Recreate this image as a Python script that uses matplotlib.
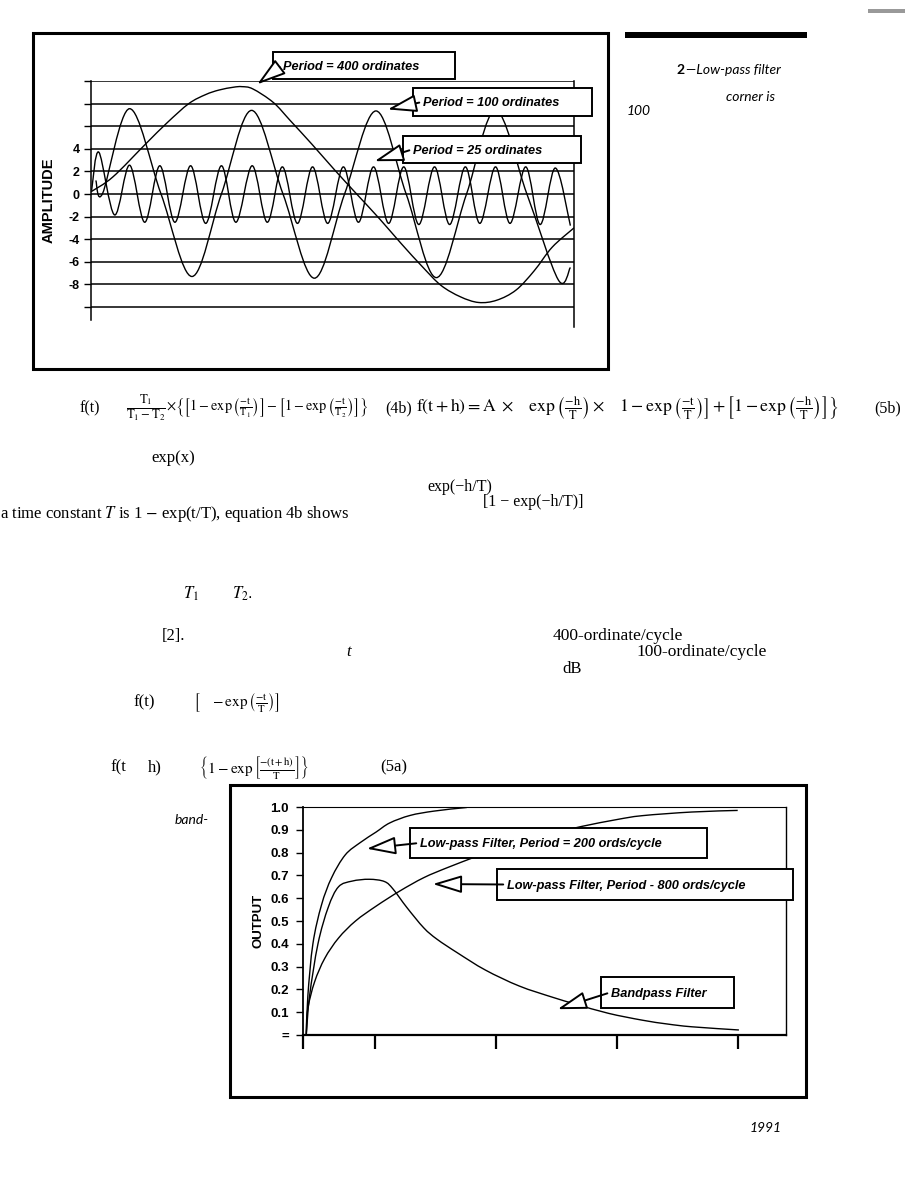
# Scanned page: sine test signals and filter step responses
import numpy as np
import matplotlib
matplotlib.use("Agg")
import matplotlib.pyplot as plt
from matplotlib.path import Path
from matplotlib.patches import PathPatch, Rectangle, FancyArrowPatch

W, H = 921, 1190

## top chart data (x = ordinate, y = amplitude)
p400_x = [0, 18, 45, 63, 81, 95, 106, 118, 125, 134, 151, 165, 183, 202, 220, 239, 257, 275, 290, 306, 321, 336, 352, 367, 382, 400]
p400_y = [0.2, 1.5, 4.4, 6.3, 8.0, 8.8, 9.2, 9.45, 9.5, 9.3, 8.1, 6.5, 4.4, 2.1, 0.0, -2.2, -4.4, -6.5, -8.1, -9.1, -9.6, -9.4, -8.5, -6.8, -4.7, -3.0]

p100_x = [4, 9.6, 32, 58, 83.6, 108, 133, 159, 185, 210, 236, 261, 286, 311, 335, 361, 387, 397]
p100_y = [1.2, 0.05, 7.55, 0.0, -7.3, 0.0, 7.4, 0.0, -7.45, 0.0, 7.35, 0.0, -7.4, 0.0, 7.4, 0.0, -7.6, -6.5]

p25_x = [0.5, 6.5, 19.5, 32, 44.5, 57, 69.5, 82.5, 95, 108, 120, 133.5, 146, 158.5, 171, 183.5, 196,
         209, 221.5, 234, 246.5, 259, 271.5, 284.5, 297, 310, 322, 335, 347, 360, 372, 384.5, 397]
p25_y = [0.3, 3.7, -1.85, 2.55, -2.5, 2.5, -2.5, 2.5, -2.6, 2.5, -2.5, 2.5, -2.5, 2.4, -2.6, 2.4, -2.6,
         2.4, -2.5, 2.4, -2.6, 2.4, -2.7, 2.4, -2.7, 2.4, -2.6, 2.4, -2.6, 2.4, -2.7, 2.3, -2.8]

amp_ticks = [-10, -8, -6, -4, -2, 0, 2, 4, 6, 8, 10]
amp_labels = ['', '-8', '-6', '-4', '-2', '0', '2', '4', '', '', '']

## bottom chart data (x = ordinate, y = output)
lp200_x = [2.7, 4, 8.2, 15.3, 23.7, 35, 47.7, 60.5, 71.8, 88.7, 108.5, 134, 145, 250, 360]
lp200_y = [0.0, 0.17, 0.40, 0.57, 0.69, 0.79, 0.845, 0.89, 0.93, 0.963, 0.982, 0.997, 1.0, 1.0, 1.0]

lp800_x = [2.7, 4, 9.6, 18, 29.4, 43.5, 60.5, 80, 100, 120, 145, 170.6, 207, 231, 260, 281, 322, 360]
lp800_y = [0.0, 0.115, 0.233, 0.336, 0.425, 0.50, 0.565, 0.631, 0.69, 0.735, 0.786, 0.838, 0.885, 0.915, 0.945, 0.962, 0.978, 0.985]

band_x = [2.7, 5.4, 12.4, 20.9, 29.4, 40.7, 54.8, 67.5, 74.6, 85.9, 100, 111, 128, 151, 179, 207, 226, 253, 281, 302, 322, 361]
band_y = [0.0, 0.17, 0.40, 0.56, 0.65, 0.675, 0.683, 0.673, 0.64, 0.56, 0.47, 0.42, 0.36, 0.285, 0.215, 0.165, 0.135, 0.095, 0.065, 0.048, 0.036, 0.022]

out_ticks = [0, 0.1, 0.2, 0.3, 0.4, 0.5, 0.6, 0.7, 0.8, 0.9, 1.0]
out_labels = ['=', '0.1', '0.2', '0.3', '0.4', '0.5', '0.6', '0.7', '0.8', '0.9', '1.0']
x_ticks = [0, 60, 160, 260, 360]

plt.rcParams['font.family'] = ['Liberation Sans', 'DejaVu Sans']
plt.rcParams['mathtext.fontset'] = 'stix'


def smooth(ax, x, y, lw=1.0):
    # excel style smoothed line: bezier through the data points
    x = np.asarray(x, float)
    y = np.asarray(y, float)
    n = len(x)
    verts = [(x[0], y[0])]
    codes = [Path.MOVETO]
    for i in range(n - 1):
        a = max(i - 1, 0)
        b = min(i + 2, n - 1)
        verts.append((x[i] + (x[i + 1] - x[a]) / 6, y[i] + (y[i + 1] - y[a]) / 6))
        verts.append((x[i + 1] - (x[b] - x[i]) / 6, y[i + 1] - (y[b] - y[i]) / 6))
        verts.append((x[i + 1], y[i + 1]))
        codes += [Path.CURVE4] * 3
    ax.add_patch(PathPatch(Path(verts, codes), fill=False, lw=lw, ec='black', zorder=3))


def fx(x):
    return x / W


def fy(y):
    return 1 - y / H


def txt(x, y, s, **kw):
    kw.setdefault('va', 'center')
    fig.text(fx(x), fy(y), s, **kw)


def frame(x0, y0, x1, y1, lw=2.2):
    fig.add_artist(Rectangle((fx(x0), fy(y1)), fx(x1) - fx(x0), fy(y0) - fy(y1),
                             transform=fig.transFigure, fill=False, ec='black', lw=lw))


def callout(x0, y0, x1, y1, s, tip):
    ym = (y0 + y1) / 2
    fig.add_artist(Rectangle((fx(x0), fy(y1)), fx(x1) - fx(x0), fy(y0) - fy(y1),
                             transform=fig.transFigure, fc='white', ec='black', lw=1.4, zorder=5))
    fig.add_artist(FancyArrowPatch((fx(x0 + 9), fy(ym)), (fx(tip[0]), fy(tip[1])),
                                   transform=fig.transFigure, zorder=6,
                                   arrowstyle='-|>,head_length=1.8,head_width=0.55',
                                   mutation_scale=10, fc='white', ec='black', lw=1.4))
    txt(x0 + 10, ym + 1, s, fontsize=9.2, fontweight='bold', fontstyle='italic', zorder=7)


fig = plt.figure(figsize=(W / 100, H / 100), dpi=100)

## top chart
ax1 = fig.add_axes([fx(91), fy(320), fx(574) - fx(91), fy(81) - fy(320)])
smooth(ax1, p400_x, p400_y)
smooth(ax1, p100_x, p100_y)
smooth(ax1, p25_x, p25_y)
ax1.set_xlim(0, 400)
ax1.set_ylim(-11.15, 10)
ax1.set_yticks(amp_ticks)
ax1.set_yticklabels(amp_labels, fontsize=9, fontweight='bold')
ax1.set_xticks([])
ax1.yaxis.grid(True, color='black', lw=1.1)
ax1.tick_params(axis='y', direction='out', length=5, width=1, pad=3)
ax1.spines['top'].set_visible(False)
ax1.spines['bottom'].set_visible(False)
ax1.spines['left'].set_linewidth(1.1)
ax1.spines['right'].set_linewidth(1.1)
ax1.spines['right'].set_bounds(-11.8, 10)
ax1.set_ylabel('AMPLITUDE', fontsize=10.5, fontweight='bold', labelpad=9)

## bottom chart
ax2 = fig.add_axes([fx(303), fy(1035), fx(786) - fx(303), fy(807) - fy(1035)])
smooth(ax2, lp200_x, lp200_y)
smooth(ax2, lp800_x, lp800_y)
smooth(ax2, band_x, band_y)
ax2.set_xlim(0, 400)
ax2.set_ylim(0, 1.0)
ax2.set_yticks(out_ticks)
ax2.set_yticklabels(out_labels, fontsize=9.5, fontweight='bold')
ax2.set_xticks(x_ticks)
ax2.set_xticklabels([])
ax2.tick_params(axis='y', direction='out', length=5, width=1, pad=5)
ax2.tick_params(axis='x', direction='out', length=10, width=1.6)
ax2.spines['left'].set_linewidth(1.3)
ax2.spines['bottom'].set_linewidth(1.6)
ax2.spines['top'].set_linewidth(0.8)
ax2.spines['right'].set_linewidth(1.0)
ax2.set_ylabel('OUTPUT', fontsize=9.5, fontweight='bold', labelpad=4)

## frames and callouts
frame(33, 33, 608, 369)
frame(230, 785, 806, 1097)
callout(273, 52, 455, 79, 'Period = 400 ordinates', (255, 86))
callout(413, 88, 592, 116, 'Period = 100 ordinates', (385, 110))
callout(403, 136, 581, 163, 'Period = 25 ordinates', (372, 162))
callout(410, 828, 707, 858, 'Low-pass Filter, Period = 200 ords/cycle', (364, 849))
callout(497, 869, 793, 900, 'Low-pass Filter, Period - 800 ords/cycle', (430, 884))
callout(601, 977, 734, 1008, 'Bandpass Filter', (555, 1010))

## page fragments around the charts
fig.add_artist(Rectangle((fx(625), fy(38)), fx(807) - fx(625), fy(32) - fy(38),
                         transform=fig.transFigure, fc='black', ec='none'))
fig.add_artist(Rectangle((fx(868), fy(13)), fx(905) - fx(868), fy(9) - fy(13),
                         transform=fig.transFigure, fc='#999999', ec='none'))
sans = ['Lato', 'DejaVu Sans']
txt(676, 70, '2', fontsize=10, fontweight='bold', family=sans)
txt(686, 70, '\u2014Low-pass filter', fontsize=10, fontstyle='italic', family=sans)
txt(726, 97, 'corner is', fontsize=10, fontstyle='italic', family=sans)
txt(627, 111, '100', fontsize=10, fontstyle='italic', family=sans)
txt(175, 820, 'band-', fontsize=10, fontstyle='italic', family=sans)
txt(750, 1128, '1991', fontsize=10, fontstyle='italic', family=sans)

serif = ['Liberation Serif', 'DejaVu Serif']
txt(80, 408, 'f(t)', fontsize=11.5, family=serif)
txt(126, 408, r'$\frac{\mathrm{T}_1}{\mathrm{T}_1-\mathrm{T}_2}$', fontsize=13)
txt(166, 408, r'$\times\left\{\left[1-\exp\left(\frac{-\mathrm{t}}{\mathrm{T}_1}\right)\right]-'
              r'\left[1-\exp\left(\frac{-\mathrm{t}}{\mathrm{T}_2}\right)\right]\right\}$', fontsize=10.3)
txt(385, 408, '(4b)', fontsize=11.5, family=serif)
txt(416, 408, r'$\mathrm{f(t+h) = A}\ \times\quad \exp\left(\frac{-\mathrm{h}}{\mathrm{T}}\right)\times\quad '
              r'\left.\left.1-\exp\left(\frac{-\mathrm{t}}{\mathrm{T}}\right)\right]+'
              r'\left[1-\exp\left(\frac{-\mathrm{h}}{\mathrm{T}}\right)\right]\right\}$', fontsize=12.8)
txt(874, 408, '(5b)', fontsize=11.5, family=serif)
txt(151, 458, 'exp(x)', fontsize=12, family=serif)
txt(427, 487, 'exp(\u2212h/T)', fontsize=11.5, family=serif)
txt(483, 502, '[1 \u2212 exp(\u2212h/T)]', fontsize=11.5, family=serif)
txt(0, 514, r'a time constant $T$ is 1 $-$ exp(t/T), equation 4b shows', fontsize=12, family=serif)
txt(183, 594, r'$T_1$', fontsize=12)
txt(232, 594, r'$T_2$.', fontsize=12)
txt(162, 636, '[2].', fontsize=12, family=serif)
txt(346, 652, 't', fontsize=12, family=serif, fontstyle='italic')
txt(553, 636, '400-ordinate/cycle', fontsize=12.5, family=serif)
txt(636, 652, '100-ordinate/cycle', fontsize=12.5, family=serif)
txt(562, 669, 'dB', fontsize=12, family=serif)
txt(133, 702, 'f(t)', fontsize=12, family=serif)
txt(193, 702, r'$\left[\ \ \ -\exp\left(\frac{-\mathrm{t}}{\mathrm{T}}\right)\right]$', fontsize=11)
txt(110, 767, 'f(t', fontsize=12, family=serif)
txt(148, 767, 'h)', fontsize=12, family=serif)
txt(199, 767, r'$\left\{1-\exp\left[\frac{-(\mathrm{t+h})}{\mathrm{T}}\right]\right\}$', fontsize=11)
txt(380, 767, '(5a)', fontsize=12, family=serif)

fig.savefig('out.png', dpi=100)
